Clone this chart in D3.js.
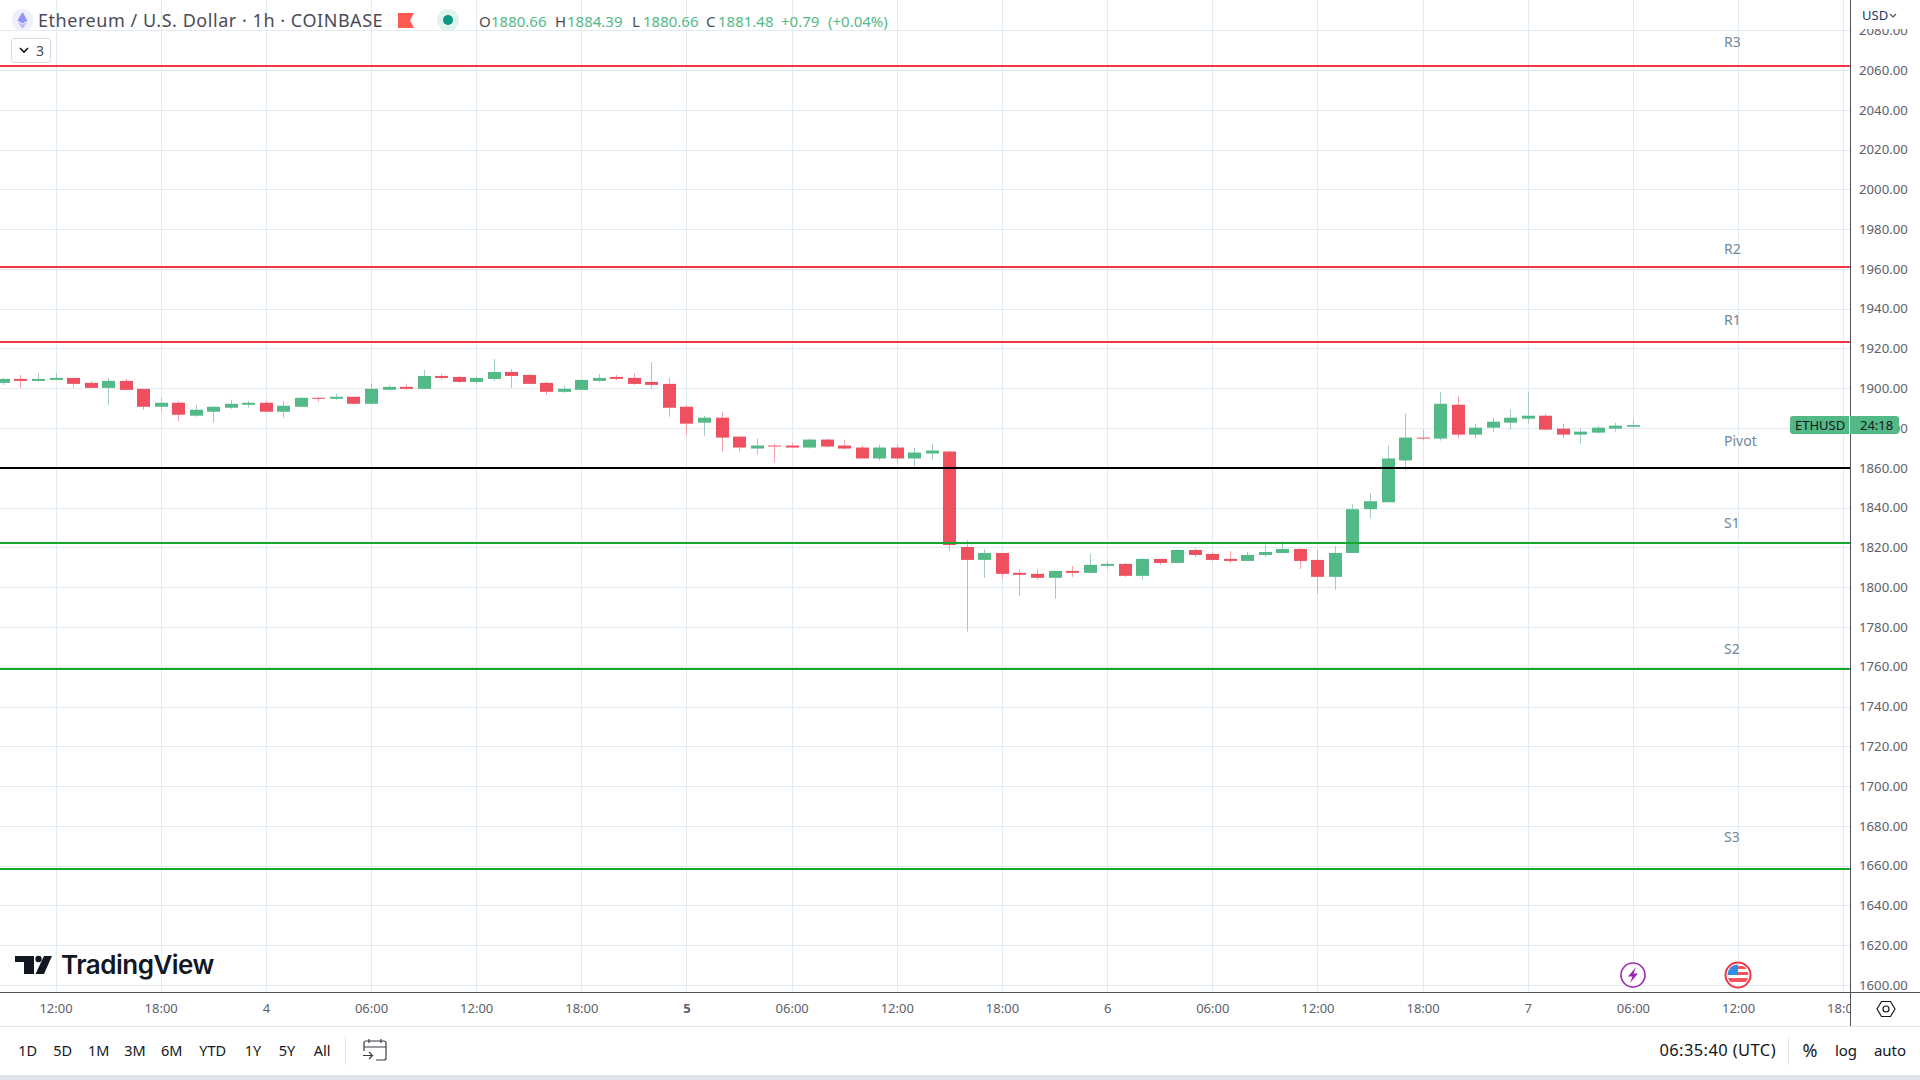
<!DOCTYPE html>
<html>
<head>
<meta charset="utf-8">
<title>ETHUSD</title>
<script src="https://cdn.jsdelivr.net/npm/d3@7"></script>
<style>
  html, body { margin: 0; padding: 0; background: #fff; overflow: hidden; }
  text { font-family: "Noto Sans", sans-serif; }
</style>
</head>
<body>
<script>
// hourly candles, first bar is 09:00 on the 3rd, last is 06:00 on the 7th
const opens = [1902.7,1904.7,1903.7,1904.2,1905.2,1902.7,1900.2,1903.7,1899.7,1890.7,1892.7,1886.2,1888.2,1890.2,1891.7,1892.7,1888.2,1890.7,1895.2,1894.7,1895.7,1892.2,1899.2,1900.7,1899.7,1906.2,1905.7,1903.2,1904.7,1908.2,1906.7,1902.7,1898.2,1899.2,1903.7,1905.7,1905.2,1903.2,1902.2,1890.7,1882.7,1885.2,1875.7,1869.7,1871.2,1871.2,1870.2,1874.2,1871.2,1870.2,1864.7,1870.2,1864.7,1867.2,1868.2,1820.2,1813.7,1817.2,1807.2,1806.7,1804.7,1808.2,1807.2,1810.7,1811.7,1805.7,1814.2,1812.2,1818.7,1816.7,1814.2,1813.2,1816.2,1817.2,1819.2,1813.7,1805.2,1817.2,1839.2,1842.7,1863.7,1875.2,1874.7,1891.7,1876.7,1880.2,1882.7,1884.7,1886.2,1879.7,1876.7,1877.7,1879.7,1880.66];
const highs = [1905.2,1906.7,1907.7,1907.7,1905.2,1903.7,1905.2,1904.7,1899.7,1895.2,1893.7,1891.7,1890.7,1894.2,1893.7,1893.7,1893.7,1895.7,1895.7,1897.2,1895.7,1902.2,1901.7,1902.2,1909.2,1907.2,1906.2,1905.7,1914.7,1909.7,1907.2,1903.2,1901.2,1904.7,1907.2,1906.7,1907.7,1913.2,1905.2,1891.7,1886.2,1888.2,1875.7,1874.7,1872.2,1872.7,1874.7,1874.7,1874.2,1871.2,1871.7,1871.7,1870.2,1872.2,1868.7,1823.7,1819.2,1817.2,1809.2,1809.2,1808.2,1810.7,1816.7,1813.2,1812.2,1814.7,1814.2,1819.2,1819.7,1817.7,1818.2,1817.7,1821.2,1823.2,1819.7,1818.7,1820.7,1841.7,1847.2,1871.2,1887.2,1879.2,1898.2,1896.2,1882.2,1885.2,1889.2,1898.2,1887.2,1882.2,1879.7,1881.2,1882.7,1884.39];
const lows = [1901.7,1900.2,1903.2,1904.2,1900.2,1900.2,1891.7,1899.2,1889.2,1888.2,1883.2,1885.7,1882.7,1889.7,1890.2,1888.2,1885.2,1890.7,1893.2,1894.2,1891.7,1892.2,1899.2,1899.2,1899.7,1904.2,1902.7,1902.2,1903.7,1900.2,1902.2,1896.7,1897.7,1899.2,1903.2,1904.2,1901.7,1899.7,1885.7,1876.2,1876.2,1868.2,1868.2,1866.7,1862.7,1870.2,1869.7,1870.2,1869.2,1864.7,1863.7,1862.2,1860.7,1864.2,1818.2,1777.7,1804.7,1804.2,1795.7,1803.7,1794.2,1805.2,1807.2,1809.2,1805.2,1803.7,1811.2,1811.7,1815.2,1813.2,1812.2,1813.2,1815.2,1817.2,1809.2,1796.7,1798.7,1817.2,1834.7,1842.7,1858.7,1873.7,1873.7,1874.7,1874.7,1878.2,1879.2,1882.2,1878.7,1874.7,1872.2,1877.2,1878.2,1880.66];
const closes = [1904.7,1903.7,1904.7,1905.2,1902.2,1900.2,1903.7,1899.2,1890.7,1892.7,1886.7,1889.2,1890.7,1892.2,1892.7,1888.2,1891.2,1895.2,1894.7,1895.7,1892.2,1899.7,1900.7,1899.7,1906.2,1905.2,1903.2,1905.2,1908.2,1906.2,1902.2,1898.2,1899.7,1904.2,1905.2,1904.7,1902.2,1901.7,1890.2,1882.2,1885.2,1875.2,1870.2,1871.2,1870.7,1870.2,1874.2,1870.7,1869.7,1864.7,1870.2,1864.7,1867.7,1868.7,1821.2,1813.7,1817.2,1806.7,1806.2,1804.7,1808.2,1807.2,1811.2,1811.7,1805.7,1814.2,1812.2,1818.7,1816.2,1813.7,1813.2,1816.2,1817.7,1819.2,1813.2,1805.2,1817.2,1839.2,1843.2,1864.7,1875.2,1874.7,1892.2,1876.7,1880.2,1883.2,1885.2,1886.2,1879.2,1876.7,1878.2,1880.2,1881.2,1881.48];

const levelNames = ["R3","R2","R1","Pivot","S1","S2","S3"];
const levelPrices = [2062,1961,1923.2,1860,1822,1759,1658.5];
const levelLabelPrices = [2074,1970,1934,1873,1832,1768.5,1674];
const levelColors = ["#f23645","#f23645","#f23645","#000000","#15a82a","#15a82a","#15a82a"];

const priceTicks = d3.range(1600, 2081, 20);
// bar index of each time label
const timeTicks = d3.range(3, 106, 6);
const timeLabels = ["12:00","18:00","4","06:00","12:00","18:00","5","06:00","12:00","18:00","6","06:00","12:00","18:00","7","06:00","12:00","18:00"];

const legendLetters = ["O","H","L","C"];
const legendValues = ["1880.66","1884.39","1880.66","1881.48"];
const rangeButtons = ["1D","5D","1M","3M","6M","YTD","1Y","5Y","All"];

const upColor = "#53b987", downColor = "#ef505f";
const upWick = "#a3cbca", downWick = "#f6a3ae";
const gridColor = "#e1ebf2", lineColor = "#50535e";
const textDark = "#131722", axisText = "#5d606b";

const svg = d3.select("body").append("svg")
  .attr("width", 1920)
  .attr("height", 1080)
  .style("display", "block");

const x = d3.scaleLinear().domain([0, 93]).range([2.95, 1632.9]);
const y = d3.scaleLinear().domain([2060, 1600]).range([70, 985]);
const px = d => Math.round(x(d));

// grid
svg.append("g").selectAll("line").data(timeTicks).join("line")
  .attr("x1", d => px(d) + 0.5).attr("x2", d => px(d) + 0.5)
  .attr("y1", 0).attr("y2", 992)
  .attr("stroke", gridColor);

svg.append("g").selectAll("line").data(priceTicks).join("line")
  .attr("x1", 0).attr("x2", 1851)
  .attr("y1", d => Math.round(y(d)) + 0.5).attr("y2", d => Math.round(y(d)) + 0.5)
  .attr("stroke", gridColor);

// candles
const bars = svg.append("g").selectAll("g").data(d3.range(opens.length)).join("g");

bars.append("rect")
  .attr("x", i => px(i))
  .attr("width", 1)
  .attr("y", i => y(highs[i]))
  .attr("height", i => y(lows[i]) - y(highs[i]))
  .attr("fill", i => closes[i] >= opens[i] ? upWick : downWick);

bars.append("rect")
  .attr("x", i => px(i) - 6)
  .attr("width", 13)
  .attr("y", i => y(Math.max(opens[i], closes[i])))
  .attr("height", i => Math.max(1, Math.abs(y(opens[i]) - y(closes[i]))))
  .attr("fill", i => closes[i] >= opens[i] ? upColor : downColor);

// pivot levels
svg.append("g").selectAll("line").data(levelPrices).join("line")
  .attr("x1", 0).attr("x2", 1851)
  .attr("y1", d => Math.round(y(d))).attr("y2", d => Math.round(y(d)))
  .attr("stroke", (d, i) => levelColors[i])
  .attr("stroke-width", 2);

svg.append("g").selectAll("text").data(levelNames).join("text")
  .attr("x", 1724)
  .attr("y", (d, i) => y(levelLabelPrices[i]))
  .attr("dy", "0.32em")
  .attr("font-size", 14)
  .attr("fill", "#72879a")
  .text(d => d);

// time axis
const timeAxis = d3.axisBottom(x)
  .tickValues(timeTicks)
  .tickSize(0)
  .tickPadding(12)
  .tickFormat((d, i) => timeLabels[i]);

svg.append("g")
  .attr("transform", "translate(0,992)")
  .call(timeAxis)
  .call(g => g.select(".domain").remove())
  .call(g => g.selectAll("text")
    .attr("font-size", 13)
    .attr("font-family", '"Noto Sans", sans-serif')
    .attr("fill", axisText)
    .attr("font-weight", (d, i) => timeLabels[i] == "5" ? 700 : 400));

svg.append("rect").attr("x", 1851).attr("y", 993).attr("width", 69).attr("height", 33).attr("fill", "#fff");

// price axis
const priceAxis = d3.axisRight(y)
  .tickValues(priceTicks)
  .tickSize(0)
  .tickPadding(8)
  .tickFormat(d => d.toFixed(2));

svg.append("g")
  .attr("transform", "translate(1851,0)")
  .call(priceAxis)
  .call(g => g.select(".domain").remove())
  .call(g => g.selectAll("text")
    .attr("font-size", 13.2)
    .attr("font-family", '"Noto Sans", sans-serif')
    .attr("fill", axisText));

// currency box covers the top of the price axis
svg.append("rect").attr("x", 1852).attr("y", 0).attr("width", 68).attr("height", 29).attr("fill", "#fff");
svg.append("text").attr("x", 1862).attr("y", 20)
  .attr("font-size", 13).attr("fill", "#2a3566").text("USD");
svg.append("path").attr("d", "M1890 14 l3 3 l3 -3")
  .attr("fill", "none").attr("stroke", "#50535e").attr("stroke-width", 1.2);

// frame lines
svg.append("rect").attr("x", 1850).attr("y", 0).attr("width", 1).attr("height", 1026).attr("fill", lineColor);
svg.append("rect").attr("x", 0).attr("y", 992).attr("width", 1920).attr("height", 1).attr("fill", lineColor);
svg.append("rect").attr("x", 0).attr("y", 1026).attr("width", 1920).attr("height", 1).attr("fill", "#e0e3eb");
svg.append("rect").attr("x", 0).attr("y", 1075).attr("width", 1920).attr("height", 5).attr("fill", "#e0e3eb");

// last price tag
const tag = svg.append("g");
tag.append("path").attr("d", "M1849 416 H1793 q-3 0 -3 3 V431 q0 3 3 3 H1849 Z").attr("fill", upColor);
tag.append("path").attr("d", "M1850 416 H1896 q3 0 3 3 V431 q0 3 -3 3 H1850 Z").attr("fill", upColor);
tag.append("text").attr("x", 1795).attr("y", 430).attr("font-size", 13).attr("fill", textDark).text("ETHUSD");
tag.append("text").attr("x", 1860).attr("y", 430).attr("font-size", 13).attr("fill", textDark).text("24:18");

// header
svg.append("circle").attr("cx", 22.5).attr("cy", 20).attr("r", 11).attr("fill", "#eef0fb");
svg.append("path").attr("d", "M22.5 12 L27.5 20.5 L22.5 23.5 L17.5 20.5 Z").attr("fill", "#8f97f3");
svg.append("path").attr("d", "M17.5 21.8 L22.5 24.8 L27.5 21.8 L22.5 28.5 Z").attr("fill", "#c3b0f6");
svg.append("text").attr("x", 38).attr("y", 27)
  .attr("font-size", 18).attr("letter-spacing", 0.54).attr("fill", "#4a4c55")
  .text("Ethereum / U.S. Dollar · 1h · COINBASE");
svg.append("path").attr("d", "M398 13 H414 L410 20.5 L414 28 H398 Z").attr("fill", "#fb5a50");
svg.append("circle").attr("cx", 448).attr("cy", 20).attr("r", 11).attr("fill", "#e0f3ef");
svg.append("circle").attr("cx", 448).attr("cy", 20).attr("r", 5).attr("fill", "#089981");

const letterX = [479, 555, 632, 706], valueX = [491, 567, 643, 718];
legendLetters.forEach((d, i) => {
  svg.append("text").attr("x", letterX[i]).attr("y", 27).attr("font-size", 15).attr("fill", "#4a4c55").text(d);
  svg.append("text").attr("x", valueX[i]).attr("y", 27).attr("font-size", 15).attr("fill", upColor).text(legendValues[i]);
});
svg.append("text").attr("x", 781).attr("y", 27).attr("font-size", 15).attr("fill", upColor).text("+0.79");
svg.append("text").attr("x", 828).attr("y", 27).attr("font-size", 15).attr("fill", upColor).text("(+0.04%)");

svg.append("rect").attr("x", 11.5).attr("y", 38.5).attr("width", 39).attr("height", 24).attr("rx", 3)
  .attr("fill", "#fff").attr("stroke", "#d6d9e2");
svg.append("path").attr("d", "M20 48 l4 4 l4 -4").attr("fill", "none").attr("stroke", textDark).attr("stroke-width", 1.6);
svg.append("text").attr("x", 36).attr("y", 56).attr("font-size", 14).attr("fill", "#4a4c55").text("3");

// logo
const logo = svg.append("g").attr("fill", textDark);
logo.append("path").attr("d", "M15 956 H34 V974 H24 V962 H15 Z");
logo.append("circle").attr("cx", 38.5).attr("cy", 959).attr("r", 3.2);
logo.append("path").attr("d", "M44 956 H52 L44 974 H35.5 Z");
logo.append("text").attr("x", 61).attr("y", 974)
  .attr("font-family", "Inter").attr("font-size", 26).attr("font-weight", 600).attr("letter-spacing", -0.5)
  .style("font-family", "Inter")
  .text("TradingView");

// event markers
svg.append("circle").attr("cx", 1633).attr("cy", 975).attr("r", 12).attr("fill", "#fff").attr("stroke", "#9c27b0").attr("stroke-width", 1.6);
svg.append("path").attr("d", "M1636 967 L1628 976.5 H1632.5 L1630 983 L1638 973.5 H1633.5 Z").attr("fill", "#9c27b0");

const flagClip = svg.append("clipPath").attr("id", "flagClip");
flagClip.append("circle").attr("cx", 1738).attr("cy", 975).attr("r", 10.5);
const flag = svg.append("g").attr("clip-path", "url(#flagClip)");
flag.append("rect").attr("x", 1726).attr("y", 963).attr("width", 24).attr("height", 24).attr("fill", "#fff");
flag.append("rect").attr("x", 1726).attr("y", 966).attr("width", 24).attr("height", 3).attr("fill", "#f7525f");
flag.append("rect").attr("x", 1726).attr("y", 972).attr("width", 24).attr("height", 3).attr("fill", "#f7525f");
flag.append("rect").attr("x", 1726).attr("y", 978).attr("width", 24).attr("height", 4).attr("fill", "#f7525f");
flag.append("rect").attr("x", 1726).attr("y", 963).attr("width", 12).attr("height", 12).attr("fill", "#2f8fe6");
svg.append("circle").attr("cx", 1738).attr("cy", 975).attr("r", 12.5).attr("fill", "none").attr("stroke", "#f23645").attr("stroke-width", 2);

// settings icon
svg.append("path").attr("d", "M1877 1009 L1881.5 1001.5 H1890.5 L1895 1009 L1890.5 1016.5 H1881.5 Z")
  .attr("fill", "none").attr("stroke", textDark).attr("stroke-width", 1.2);
svg.append("circle").attr("cx", 1886).attr("cy", 1009).attr("r", 3).attr("fill", "none").attr("stroke", textDark).attr("stroke-width", 1.2);

// bottom toolbar
const rangeX = [27.7, 62.7, 98.7, 135, 171.7, 212.7, 253, 287, 322];
svg.append("g").selectAll("text").data(rangeButtons).join("text")
  .attr("x", (d, i) => rangeX[i])
  .attr("y", 1056)
  .attr("text-anchor", "middle")
  .attr("font-size", 14.5)
  .attr("fill", textDark)
  .text(d => d);

svg.append("rect").attr("x", 345).attr("y", 1037).attr("width", 1).attr("height", 28).attr("fill", "#e0e3eb");
svg.append("path").attr("d", "M364 1051 V1043 q0 -2 2 -2 H384 q2 0 2 2 V1058 q0 2 -2 2 H376 M364 1047 H386 M369 1039 V1043 M381 1039 V1043 M363 1055.5 H372 M369 1052 L372.5 1055.5 L369 1059")
  .attr("fill", "none").attr("stroke", "#3a3d47").attr("stroke-width", 1.2);

svg.append("text").attr("x", 1776).attr("y", 1056).attr("text-anchor", "end")
  .attr("font-size", 16.5).attr("letter-spacing", 0.4).attr("fill", textDark).text("06:35:40 (UTC)");
svg.append("rect").attr("x", 1788).attr("y", 1037).attr("width", 1).attr("height", 28).attr("fill", "#e0e3eb");
svg.append("text").attr("x", 1810).attr("y", 1057).attr("text-anchor", "middle").attr("font-size", 18).attr("fill", textDark).text("%");
svg.append("text").attr("x", 1846).attr("y", 1056).attr("text-anchor", "middle").attr("font-size", 15).attr("fill", textDark).text("log");
svg.append("text").attr("x", 1890).attr("y", 1056).attr("text-anchor", "middle").attr("font-size", 15).attr("fill", textDark).text("auto");
</script>
</body>
</html>
